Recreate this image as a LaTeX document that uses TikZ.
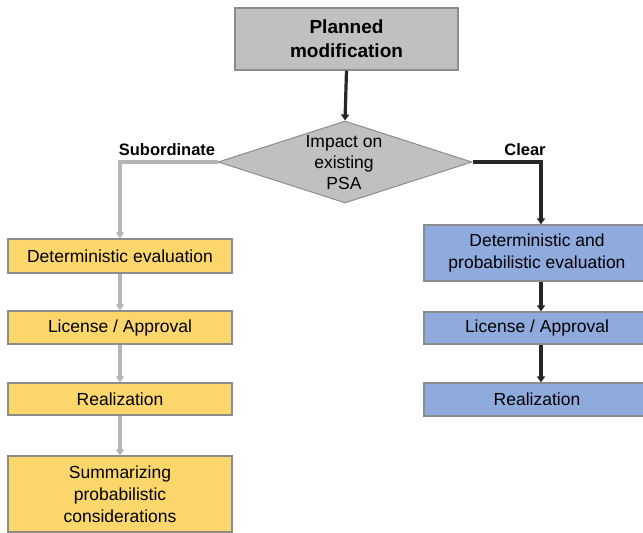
\documentclass[tikz,border=0pt]{standalone}
\usepackage{fontspec}
\setmainfont{Liberation Sans}
\usetikzlibrary{arrows.meta,shapes.geometric}

\definecolor{boxgray}{HTML}{C0C0C0}
\definecolor{edgegray}{HTML}{8C8C8C}
\definecolor{stepyellow}{HTML}{FAD66B}
\definecolor{stepblue}{HTML}{8FAADC}
\definecolor{linegray}{HTML}{B4B4B4}

\tikzset{
  x=1pt, y=1pt,
  base/.style={draw=edgegray, line width=1.2pt, inner sep=0pt, align=center,
    font=\fontsize{17.5}{22}\selectfont},
  startbox/.style={base, fill=boxgray, minimum width=223pt, minimum height=62pt,
    font=\fontsize{19}{24}\selectfont\bfseries},
  ybox/.style={base, fill=stepyellow, minimum width=224pt},
  bbox/.style={base, fill=stepblue, minimum width=226pt},
  decision/.style={diamond, draw=edgegray, line width=1pt, fill=boxgray, inner sep=0pt,
    minimum width=254pt, minimum height=82pt},
  branch/.style={font=\fontsize{16.5}{20}\selectfont\bfseries, inner sep=0pt},
  tip/.style={-{Triangle[width=8pt,length=6pt]}},
  darkflow/.style={tip, line width=3.2pt, black!85},
  lightflow/.style={tip, line width=3.4pt, linegray},
}

\begin{document}
\begin{tikzpicture}
\useasboundingbox (0,0) rectangle (643,533);

% start and decision
\node[startbox] (start) at (346.5,494) {Planned\\modification};
\node[decision] (psa) at (345,371) {};
\node[align=center, inner sep=0pt, font=\fontsize{17.5}{21}\selectfont] (psatext) at (344,370) {Impact on\\existing\\PSA};

% branch labels
\node[branch] (sub) at (167,383) {Subordinate};
\node[branch] (clr) at (525,383) {Clear};

% left branch: subordinate impact
\node[ybox, minimum height=34pt] (d1) at (120,277) {Deterministic evaluation};
\node[ybox, minimum height=33pt] (d2) at (120,205.5) {License / Approval};
\node[ybox, minimum height=32pt] (d3) at (120,134) {Realization};
\node[ybox, minimum height=76pt] (d4) at (120,39) {Summarizing\\probabilistic\\considerations};

% right branch: clear impact
\node[bbox, minimum height=56pt] (b1) at (537,280) {Deterministic and\\probabilistic evaluation};
\node[bbox, minimum height=32pt] (b2) at (537,205) {License / Approval};
\node[bbox, minimum height=33pt] (b3) at (537,133.5) {Realization};

% connectors
\draw[darkflow] (start.south) -- (psa.north);
\draw[lightflow] (psa.west) -| (d1.north);
\draw[lightflow] (d1.south) -- (d2.north);
\draw[lightflow] (d2.south) -- (d3.north);
\draw[lightflow] (d3.south) -- (d4.north);
\draw[darkflow] (psa.east) -| ([xshift=4pt]b1.north);
\draw[darkflow] ([xshift=4pt]b1.south) -- ([xshift=4pt]b2.north);
\draw[darkflow] ([xshift=4pt]b2.south) -- ([xshift=4pt]b3.north);
\end{tikzpicture}
\end{document}
